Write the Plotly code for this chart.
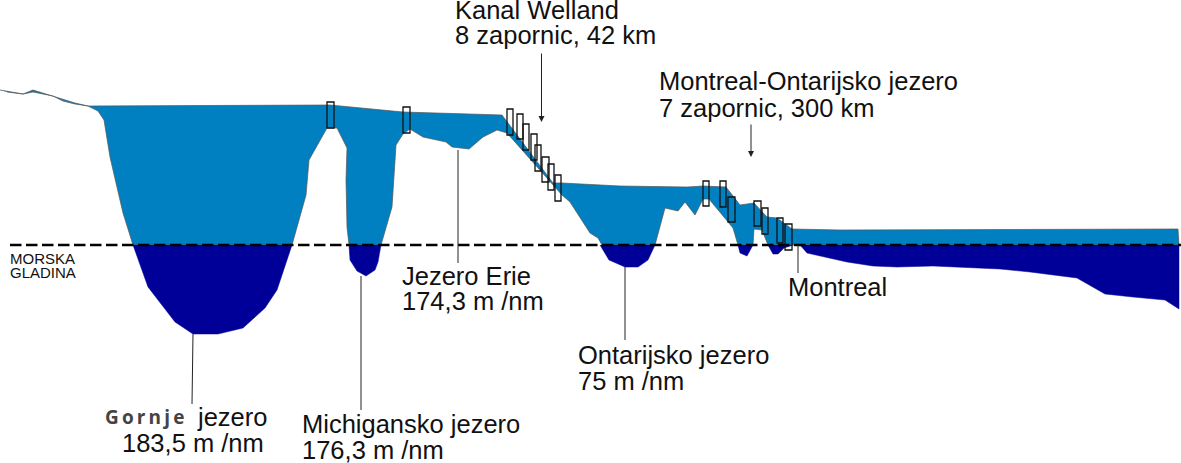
import plotly.graph_objects as go

# profile outline in pixels (y goes down)
water_x = [0, 23, 33, 52, 75, 88, 330, 403, 502, 553, 562, 620, 687, 703, 726, 740, 754, 767, 777, 792, 840, 1178, 1179,
           793, 768, 762, 754, 753, 738, 733, 709, 703, 695, 685, 678, 665, 655, 602, 598, 590, 570, 562, 507, 497, 483,
           469, 452, 446, 423, 410, 403, 396, 392, 381, 349, 347, 346, 347, 337, 327, 309, 306, 292, 133, 123, 110, 104,
           98, 88, 75, 63, 53, 33, 23, 7]
water_y = [90, 94, 90, 96, 103, 106, 105, 112, 115, 183, 183, 186, 187, 186, 187, 205, 203, 217, 218, 229, 230, 229, 245,
           245, 245, 230, 229, 245, 245, 228, 199, 199, 215, 202, 211, 208, 245, 245, 238, 233, 202, 195, 133, 130, 137,
           149, 147, 142, 137, 129, 134, 145, 207, 245, 245, 227, 180, 148, 128, 128, 160, 195, 245, 245, 213, 157, 120,
           111, 106, 104, 101, 96, 92, 94, 92]

superior_x = [133, 148, 175, 193, 218, 243, 265, 277, 292]
superior_y = [245, 287, 322, 334, 334, 328, 308, 290, 245]
michigan_x = [349, 350, 357, 366, 375, 378, 381]
michigan_y = [245, 260, 271, 276, 270, 262, 245]
ontario_x = [600, 609, 625, 638, 648, 655]
ontario_y = [245, 260, 267, 267, 260, 245]
pool1_x = [738, 740, 747, 752, 753]
pool1_y = [245, 253, 256, 248, 245]
pool2_x = [768, 773, 778, 784, 793]
pool2_y = [245, 254, 254, 248, 245]
river_x = [800, 807, 847, 873, 897, 933, 1000, 1030, 1077, 1105, 1133, 1165, 1179, 1179]
river_y = [245, 253, 262, 266, 267, 266, 269, 272, 278, 294, 297, 300, 309, 245]
deep_parts = [(superior_x, superior_y), (michigan_x, michigan_y), (ontario_x, ontario_y),
              (pool1_x, pool1_y), (pool2_x, pool2_y), (river_x, river_y)]

# locks: left, right, top, bottom
locks = [(327, 334, 102, 128), (403, 410, 107, 133),
         (507, 513, 109, 135), (517, 523, 114, 139), (523, 529, 124, 150), (531, 537, 134, 160),
         (535, 541, 145, 171), (542, 549, 157, 182), (548, 554, 164, 190), (555, 561, 175, 201),
         (703, 709, 181, 206), (720, 726, 181, 207), (728, 735, 197, 222), (754, 761, 201, 226),
         (762, 768, 208, 234), (777, 783, 218, 243), (785, 792, 224, 250)]

leaders = [(193, 334, 192, 404), (361, 276, 361, 410), (458, 150, 458, 263), (625, 267, 625, 340), (798, 245, 798, 273)]
arrows = [(541.5, 52, 541.5, 122), (751, 123, 751, 157)]

labels = [("Kanal Welland", 455, 10), ("8 zapornic, 42 km", 455, 35),
          ("Montreal-Ontarijsko jezero", 659, 81), ("7 zapornic, 300 km", 659, 108),
          ("Jezero Erie", 402, 276), ("174,3 m /nm", 402, 301),
          ("Montreal", 788, 287),
          ("Ontarijsko jezero", 578, 355), ("75 m /nm", 578, 381),
          ("jezero", 197, 417), ("183,5 m /nm", 122, 443),
          ("Michigansko jezero", 302, 424), ("176,3 m /nm", 302, 450)]

fig = go.Figure()
fig.add_trace(go.Scatter(x=water_x, y=water_y, mode="lines", fill="toself", fillcolor="#0080C0",
                         line=dict(color="#555555", width=0.7), hoverinfo="skip"))
for px, py in deep_parts:
    fig.add_trace(go.Scatter(x=px, y=py, mode="lines", fill="toself", fillcolor="#000099",
                             line=dict(color="#000099", width=0.5), hoverinfo="skip"))

fig.add_trace(go.Scatter(x=[10, 1181], y=[245, 245], mode="lines",
                         line=dict(color="black", width=2.5, dash="11.5px,4.5px"), hoverinfo="skip"))

for x0, x1, y0, y1 in locks:
    fig.add_shape(type="rect", x0=x0, x1=x1, y0=y0, y1=y1, line=dict(color="#111111", width=1.3))
for x0, y0, x1, y1 in leaders:
    fig.add_shape(type="line", x0=x0, y0=y0, x1=x1, y1=y1, line=dict(color="#222222", width=1))
for x0, y0, x1, y1 in arrows:
    fig.add_annotation(x=x1, y=y1, ax=x0, ay=y0, axref="x", ayref="y", text="", showarrow=True,
                       arrowhead=2, arrowsize=1.2, arrowwidth=1, arrowcolor="#222222")

for text, x, y in labels:
    fig.add_annotation(x=x, y=y, text=text, showarrow=False, xanchor="left", yanchor="middle", xshift=-2,
                       font=dict(family="Liberation Sans", size=25.5, color="#111111"))
fig.add_annotation(x=105, y=417, text="G\u2009o\u2009r\u2009n\u2009j\u2009e", showarrow=False, xanchor="left", yanchor="middle", xshift=-2,
                   font=dict(family="Open Sans", size=19, color="#444444", weight="bold"))
fig.add_annotation(x=10, y=258, text="MORSKA", showarrow=False, xanchor="left", yanchor="middle", xshift=-2,
                   font=dict(family="Liberation Sans", size=15, color="#111111"))
fig.add_annotation(x=10, y=272, text="GLADINA", showarrow=False, xanchor="left", yanchor="middle", xshift=-2,
                   font=dict(family="Liberation Sans", size=15, color="#111111"))

fig.update_layout(width=1181, height=463, margin=dict(l=0, r=0, t=0, b=0), showlegend=False,
                  plot_bgcolor="white", paper_bgcolor="white",
                  xaxis=dict(range=[0, 1181], visible=False),
                  yaxis=dict(range=[463, 0], visible=False))
# page margin would push the figure out of the window
fig.write_html("out.html", post_script="document.body.style.margin='0';", config=dict(displayModeBar=False))
